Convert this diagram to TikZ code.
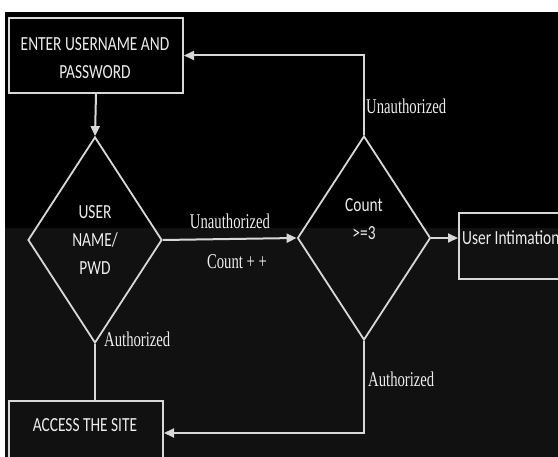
\documentclass[tikz,border=0pt]{standalone}
\usepackage{fontspec}
\newfontfamily\boxfont[FakeStretch=0.77]{Carlito}
\newfontfamily\lblfont[FakeStretch=0.7]{Liberation Serif}
\usetikzlibrary{shapes.geometric,arrows.meta}
\definecolor{lc}{HTML}{D8D8D8}
\definecolor{tc}{HTML}{EDEDED}
\definecolor{bgA}{HTML}{000000}
\definecolor{bgB}{HTML}{111111}
\begin{document}
\begin{tikzpicture}[x=1pt,y=-1pt,
  conn/.style={draw=lc, line width=2pt},
  arr/.style={conn, -{Triangle[length=10pt,width=9pt]}},
  boxnode/.style={draw=lc, line width=2pt, rectangle, inner sep=0pt, anchor=north west},
  dnode/.style={diamond, draw=lc, line width=1.8pt, inner sep=0pt},
  btxt/.style={text=tc, font=\boxfont\fontsize{20}{28}\selectfont, align=center, inner sep=0pt},
  ltxt/.style={text=tc, font=\lblfont\fontsize{21}{24}\selectfont, inner sep=0pt}]
\useasboundingbox (0,0) rectangle (558,457);
\clip (0,0) rectangle (558,457);
\fill[white] (0,0) rectangle (558,457);
\fill[bgA] (5,12) rectangle (558,228);
\fill[bgB] (5,228) rectangle (558,457);

% boxes
\node[boxnode, minimum width=174pt, minimum height=75pt] (enter) at (8,17) {};
\node[btxt] (entert) at (95,58) {ENTER USERNAME AND\\PASSWORD};
\node[boxnode, minimum width=154pt, minimum height=64pt] (acc) at (8,400) {};
\node[btxt] (acct) at (85,425) {ACCESS THE SITE};
\node[boxnode, minimum width=110pt, minimum height=66pt] (ui) at (458,212) {};
\node[btxt, anchor=west] (uit) at (462,238) {User Intimation};

% diamonds
\node[dnode, minimum width=134pt, minimum height=206pt] (d1) at (95,240) {};
\node[btxt] (d1t) at (95,240) {USER\\NAME/\\PWD};
\node[dnode, minimum width=133pt, minimum height=204pt] (d2) at (364,238) {};
\node[btxt, text depth=0pt] (d2t) at (364,219) {Count\\{>}=3};

% connectors
\draw[arr] (enter.south) -- (d1.north);
\draw[arr] (d1.east) -- (d2.west);
\draw[arr] (d2.north) |- (enter.east);
\draw[arr] (d2.east) -- (d2.east -| ui.west);
\draw[conn] (d1.south) -- (d1.south |- acc.north);
\draw[arr] (d2.south) |- (acc.east);

% labels
\node[ltxt] (l1) at (230,221) {Unauthorized};
\node[ltxt] (l2) at (237,262) {Count + +};
\node[ltxt, anchor=west] (l3) at (366,106) {Unauthorized};
\node[ltxt, anchor=west] (l4) at (104,339) {Authorized};
\node[ltxt, anchor=west] (l5) at (368,379) {Authorized};
\end{tikzpicture}
\end{document}
